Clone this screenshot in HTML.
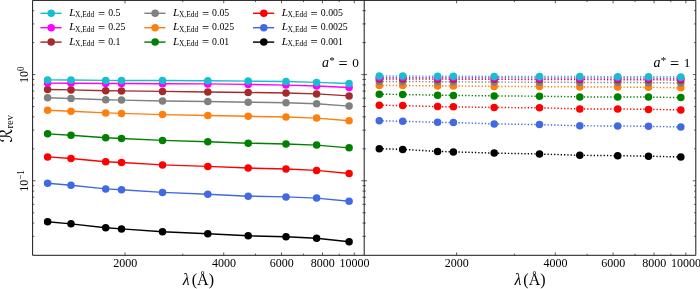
<!DOCTYPE html>
<html><head><meta charset="utf-8"><title>R_rev vs lambda</title>
<style>html,body{margin:0;padding:0;background:#fff;overflow:hidden}svg{display:block}</style></head>
<body>
<svg width="700" height="289" viewBox="0 0 700 289" style="display:block">
<rect width="700" height="289" fill="#fff"/>
<polyline points="47.60,221.80 71.00,223.85 105.70,227.80 121.50,228.90 162.50,231.80 207.80,233.70 248.20,235.80 286.00,236.80 316.60,238.20 349.10,241.70" fill="none" stroke="#000000" stroke-width="1.45" stroke-linejoin="round"/>
<circle cx="47.60" cy="221.80" r="3.75" fill="#000000"/>
<circle cx="71.00" cy="223.85" r="3.75" fill="#000000"/>
<circle cx="105.70" cy="227.80" r="3.75" fill="#000000"/>
<circle cx="121.50" cy="228.90" r="3.75" fill="#000000"/>
<circle cx="162.50" cy="231.80" r="3.75" fill="#000000"/>
<circle cx="207.80" cy="233.70" r="3.75" fill="#000000"/>
<circle cx="248.20" cy="235.80" r="3.75" fill="#000000"/>
<circle cx="286.00" cy="236.80" r="3.75" fill="#000000"/>
<circle cx="316.60" cy="238.20" r="3.75" fill="#000000"/>
<circle cx="349.10" cy="241.70" r="3.75" fill="#000000"/>
<polyline points="47.60,183.20 71.00,185.30 105.70,188.90 121.50,189.80 162.50,192.40 207.80,194.30 248.20,196.20 286.00,196.90 316.60,198.10 349.10,201.20" fill="none" stroke="#4169e1" stroke-width="1.45" stroke-linejoin="round"/>
<circle cx="47.60" cy="183.20" r="3.75" fill="#4169e1"/>
<circle cx="71.00" cy="185.30" r="3.75" fill="#4169e1"/>
<circle cx="105.70" cy="188.90" r="3.75" fill="#4169e1"/>
<circle cx="121.50" cy="189.80" r="3.75" fill="#4169e1"/>
<circle cx="162.50" cy="192.40" r="3.75" fill="#4169e1"/>
<circle cx="207.80" cy="194.30" r="3.75" fill="#4169e1"/>
<circle cx="248.20" cy="196.20" r="3.75" fill="#4169e1"/>
<circle cx="286.00" cy="196.90" r="3.75" fill="#4169e1"/>
<circle cx="316.60" cy="198.10" r="3.75" fill="#4169e1"/>
<circle cx="349.10" cy="201.20" r="3.75" fill="#4169e1"/>
<polyline points="47.60,156.90 71.00,158.55 105.70,161.70 121.50,162.50 162.50,164.90 207.80,166.40 248.20,168.00 286.00,169.00 316.60,170.40 349.10,173.50" fill="none" stroke="#ff0000" stroke-width="1.45" stroke-linejoin="round"/>
<circle cx="47.60" cy="156.90" r="3.75" fill="#ff0000"/>
<circle cx="71.00" cy="158.55" r="3.75" fill="#ff0000"/>
<circle cx="105.70" cy="161.70" r="3.75" fill="#ff0000"/>
<circle cx="121.50" cy="162.50" r="3.75" fill="#ff0000"/>
<circle cx="162.50" cy="164.90" r="3.75" fill="#ff0000"/>
<circle cx="207.80" cy="166.40" r="3.75" fill="#ff0000"/>
<circle cx="248.20" cy="168.00" r="3.75" fill="#ff0000"/>
<circle cx="286.00" cy="169.00" r="3.75" fill="#ff0000"/>
<circle cx="316.60" cy="170.40" r="3.75" fill="#ff0000"/>
<circle cx="349.10" cy="173.50" r="3.75" fill="#ff0000"/>
<polyline points="47.60,133.85 71.00,135.20 105.70,137.80 121.50,138.50 162.50,140.40 207.80,141.80 248.20,143.20 286.00,144.05 316.60,145.10 349.10,147.85" fill="none" stroke="#008000" stroke-width="1.45" stroke-linejoin="round"/>
<circle cx="47.60" cy="133.85" r="3.75" fill="#008000"/>
<circle cx="71.00" cy="135.20" r="3.75" fill="#008000"/>
<circle cx="105.70" cy="137.80" r="3.75" fill="#008000"/>
<circle cx="121.50" cy="138.50" r="3.75" fill="#008000"/>
<circle cx="162.50" cy="140.40" r="3.75" fill="#008000"/>
<circle cx="207.80" cy="141.80" r="3.75" fill="#008000"/>
<circle cx="248.20" cy="143.20" r="3.75" fill="#008000"/>
<circle cx="286.00" cy="144.05" r="3.75" fill="#008000"/>
<circle cx="316.60" cy="145.10" r="3.75" fill="#008000"/>
<circle cx="349.10" cy="147.85" r="3.75" fill="#008000"/>
<polyline points="47.60,110.30 71.00,111.20 105.70,112.90 121.50,113.40 162.50,114.60 207.80,115.50 248.20,116.30 286.00,117.00 316.60,118.10 349.10,120.70" fill="none" stroke="#ff7f0e" stroke-width="1.45" stroke-linejoin="round"/>
<circle cx="47.60" cy="110.30" r="3.75" fill="#ff7f0e"/>
<circle cx="71.00" cy="111.20" r="3.75" fill="#ff7f0e"/>
<circle cx="105.70" cy="112.90" r="3.75" fill="#ff7f0e"/>
<circle cx="121.50" cy="113.40" r="3.75" fill="#ff7f0e"/>
<circle cx="162.50" cy="114.60" r="3.75" fill="#ff7f0e"/>
<circle cx="207.80" cy="115.50" r="3.75" fill="#ff7f0e"/>
<circle cx="248.20" cy="116.30" r="3.75" fill="#ff7f0e"/>
<circle cx="286.00" cy="117.00" r="3.75" fill="#ff7f0e"/>
<circle cx="316.60" cy="118.10" r="3.75" fill="#ff7f0e"/>
<circle cx="349.10" cy="120.70" r="3.75" fill="#ff7f0e"/>
<polyline points="47.60,97.80 71.00,98.50 105.70,99.70 121.50,100.10 162.50,101.00 207.80,101.50 248.20,102.20 286.00,102.70 316.60,103.70 349.10,106.10" fill="none" stroke="#808080" stroke-width="1.45" stroke-linejoin="round"/>
<circle cx="47.60" cy="97.80" r="3.75" fill="#808080"/>
<circle cx="71.00" cy="98.50" r="3.75" fill="#808080"/>
<circle cx="105.70" cy="99.70" r="3.75" fill="#808080"/>
<circle cx="121.50" cy="100.10" r="3.75" fill="#808080"/>
<circle cx="162.50" cy="101.00" r="3.75" fill="#808080"/>
<circle cx="207.80" cy="101.50" r="3.75" fill="#808080"/>
<circle cx="248.20" cy="102.20" r="3.75" fill="#808080"/>
<circle cx="286.00" cy="102.70" r="3.75" fill="#808080"/>
<circle cx="316.60" cy="103.70" r="3.75" fill="#808080"/>
<circle cx="349.10" cy="106.10" r="3.75" fill="#808080"/>
<polyline points="47.60,89.50 71.00,89.90 105.70,90.75 121.50,90.90 162.50,91.40 207.80,92.00 248.20,92.50 286.00,93.00 316.60,93.90 349.10,95.90" fill="none" stroke="#a52a2a" stroke-width="1.45" stroke-linejoin="round"/>
<circle cx="47.60" cy="89.50" r="3.75" fill="#a52a2a"/>
<circle cx="71.00" cy="89.90" r="3.75" fill="#a52a2a"/>
<circle cx="105.70" cy="90.75" r="3.75" fill="#a52a2a"/>
<circle cx="121.50" cy="90.90" r="3.75" fill="#a52a2a"/>
<circle cx="162.50" cy="91.40" r="3.75" fill="#a52a2a"/>
<circle cx="207.80" cy="92.00" r="3.75" fill="#a52a2a"/>
<circle cx="248.20" cy="92.50" r="3.75" fill="#a52a2a"/>
<circle cx="286.00" cy="93.00" r="3.75" fill="#a52a2a"/>
<circle cx="316.60" cy="93.90" r="3.75" fill="#a52a2a"/>
<circle cx="349.10" cy="95.90" r="3.75" fill="#a52a2a"/>
<polyline points="47.60,83.10 71.00,83.30 105.70,83.50 121.50,83.50 162.50,83.70 207.80,83.90 248.20,84.40 286.00,85.10 316.60,86.00 349.10,87.50" fill="none" stroke="#ff00ff" stroke-width="1.45" stroke-linejoin="round"/>
<circle cx="47.60" cy="83.10" r="3.75" fill="#ff00ff"/>
<circle cx="71.00" cy="83.30" r="3.75" fill="#ff00ff"/>
<circle cx="105.70" cy="83.50" r="3.75" fill="#ff00ff"/>
<circle cx="121.50" cy="83.50" r="3.75" fill="#ff00ff"/>
<circle cx="162.50" cy="83.70" r="3.75" fill="#ff00ff"/>
<circle cx="207.80" cy="83.90" r="3.75" fill="#ff00ff"/>
<circle cx="248.20" cy="84.40" r="3.75" fill="#ff00ff"/>
<circle cx="286.00" cy="85.10" r="3.75" fill="#ff00ff"/>
<circle cx="316.60" cy="86.00" r="3.75" fill="#ff00ff"/>
<circle cx="349.10" cy="87.50" r="3.75" fill="#ff00ff"/>
<polyline points="47.60,79.90 71.00,80.00 105.70,80.40 121.50,80.40 162.50,80.50 207.80,80.70 248.20,81.10 286.00,81.50 316.60,82.40 349.10,83.50" fill="none" stroke="#17becf" stroke-width="1.45" stroke-linejoin="round"/>
<circle cx="47.60" cy="79.90" r="3.75" fill="#17becf"/>
<circle cx="71.00" cy="80.00" r="3.75" fill="#17becf"/>
<circle cx="105.70" cy="80.40" r="3.75" fill="#17becf"/>
<circle cx="121.50" cy="80.40" r="3.75" fill="#17becf"/>
<circle cx="162.50" cy="80.50" r="3.75" fill="#17becf"/>
<circle cx="207.80" cy="80.70" r="3.75" fill="#17becf"/>
<circle cx="248.20" cy="81.10" r="3.75" fill="#17becf"/>
<circle cx="286.00" cy="81.50" r="3.75" fill="#17becf"/>
<circle cx="316.60" cy="82.40" r="3.75" fill="#17becf"/>
<circle cx="349.10" cy="83.50" r="3.75" fill="#17becf"/>
<polyline points="379.30,148.70 402.70,149.40 437.60,151.40 453.40,151.90 494.20,153.10 539.50,154.00 579.80,155.30 617.70,155.70 648.50,156.20 680.80,157.00" fill="none" stroke="#000000" stroke-width="1.45" stroke-dasharray="1.3 2.0" stroke-linejoin="round"/>
<circle cx="379.30" cy="148.70" r="3.75" fill="#000000"/>
<circle cx="402.70" cy="149.40" r="3.75" fill="#000000"/>
<circle cx="437.60" cy="151.40" r="3.75" fill="#000000"/>
<circle cx="453.40" cy="151.90" r="3.75" fill="#000000"/>
<circle cx="494.20" cy="153.10" r="3.75" fill="#000000"/>
<circle cx="539.50" cy="154.00" r="3.75" fill="#000000"/>
<circle cx="579.80" cy="155.30" r="3.75" fill="#000000"/>
<circle cx="617.70" cy="155.70" r="3.75" fill="#000000"/>
<circle cx="648.50" cy="156.20" r="3.75" fill="#000000"/>
<circle cx="680.80" cy="157.00" r="3.75" fill="#000000"/>
<polyline points="379.30,120.80 402.70,121.30 437.60,122.35 453.40,122.50 494.20,123.90 539.50,124.60 579.80,125.80 617.70,126.00 648.50,126.30 680.80,127.00" fill="none" stroke="#4169e1" stroke-width="1.45" stroke-dasharray="1.3 2.0" stroke-linejoin="round"/>
<circle cx="379.30" cy="120.80" r="3.75" fill="#4169e1"/>
<circle cx="402.70" cy="121.30" r="3.75" fill="#4169e1"/>
<circle cx="437.60" cy="122.35" r="3.75" fill="#4169e1"/>
<circle cx="453.40" cy="122.50" r="3.75" fill="#4169e1"/>
<circle cx="494.20" cy="123.90" r="3.75" fill="#4169e1"/>
<circle cx="539.50" cy="124.60" r="3.75" fill="#4169e1"/>
<circle cx="579.80" cy="125.80" r="3.75" fill="#4169e1"/>
<circle cx="617.70" cy="126.00" r="3.75" fill="#4169e1"/>
<circle cx="648.50" cy="126.30" r="3.75" fill="#4169e1"/>
<circle cx="680.80" cy="127.00" r="3.75" fill="#4169e1"/>
<polyline points="379.30,105.20 402.70,105.60 437.60,106.60 453.40,106.80 494.20,107.50 539.50,107.80 579.80,108.90 617.70,109.00 648.50,109.40 680.80,109.90" fill="none" stroke="#ff0000" stroke-width="1.45" stroke-dasharray="1.3 2.0" stroke-linejoin="round"/>
<circle cx="379.30" cy="105.20" r="3.75" fill="#ff0000"/>
<circle cx="402.70" cy="105.60" r="3.75" fill="#ff0000"/>
<circle cx="437.60" cy="106.60" r="3.75" fill="#ff0000"/>
<circle cx="453.40" cy="106.80" r="3.75" fill="#ff0000"/>
<circle cx="494.20" cy="107.50" r="3.75" fill="#ff0000"/>
<circle cx="539.50" cy="107.80" r="3.75" fill="#ff0000"/>
<circle cx="579.80" cy="108.90" r="3.75" fill="#ff0000"/>
<circle cx="617.70" cy="109.00" r="3.75" fill="#ff0000"/>
<circle cx="648.50" cy="109.40" r="3.75" fill="#ff0000"/>
<circle cx="680.80" cy="109.90" r="3.75" fill="#ff0000"/>
<polyline points="379.30,94.20 402.70,94.50 437.60,95.20 453.40,95.40 494.20,95.90 539.50,96.20 579.80,96.90 617.70,96.90 648.50,97.10 680.80,97.60" fill="none" stroke="#008000" stroke-width="1.45" stroke-dasharray="1.3 2.0" stroke-linejoin="round"/>
<circle cx="379.30" cy="94.20" r="3.75" fill="#008000"/>
<circle cx="402.70" cy="94.50" r="3.75" fill="#008000"/>
<circle cx="437.60" cy="95.20" r="3.75" fill="#008000"/>
<circle cx="453.40" cy="95.40" r="3.75" fill="#008000"/>
<circle cx="494.20" cy="95.90" r="3.75" fill="#008000"/>
<circle cx="539.50" cy="96.20" r="3.75" fill="#008000"/>
<circle cx="579.80" cy="96.90" r="3.75" fill="#008000"/>
<circle cx="617.70" cy="96.90" r="3.75" fill="#008000"/>
<circle cx="648.50" cy="97.10" r="3.75" fill="#008000"/>
<circle cx="680.80" cy="97.60" r="3.75" fill="#008000"/>
<polyline points="379.30,85.40 402.70,85.50 437.60,85.90 453.40,86.00 494.20,86.40 539.50,86.60 579.80,86.90 617.70,87.10 648.50,87.25 680.80,87.80" fill="none" stroke="#ff7f0e" stroke-width="1.45" stroke-dasharray="1.3 2.0" stroke-linejoin="round"/>
<circle cx="379.30" cy="85.40" r="3.75" fill="#ff7f0e"/>
<circle cx="402.70" cy="85.50" r="3.75" fill="#ff7f0e"/>
<circle cx="437.60" cy="85.90" r="3.75" fill="#ff7f0e"/>
<circle cx="453.40" cy="86.00" r="3.75" fill="#ff7f0e"/>
<circle cx="494.20" cy="86.40" r="3.75" fill="#ff7f0e"/>
<circle cx="539.50" cy="86.60" r="3.75" fill="#ff7f0e"/>
<circle cx="579.80" cy="86.90" r="3.75" fill="#ff7f0e"/>
<circle cx="617.70" cy="87.10" r="3.75" fill="#ff7f0e"/>
<circle cx="648.50" cy="87.25" r="3.75" fill="#ff7f0e"/>
<circle cx="680.80" cy="87.80" r="3.75" fill="#ff7f0e"/>
<polyline points="379.30,81.40 402.70,81.47 437.60,81.73 453.40,81.80 494.20,82.07 539.50,82.20 579.80,82.40 617.70,82.53 648.50,82.63 680.80,83.00" fill="none" stroke="#808080" stroke-width="1.45" stroke-dasharray="1.3 2.0" stroke-linejoin="round"/>
<circle cx="379.30" cy="81.40" r="3.75" fill="#808080"/>
<circle cx="402.70" cy="81.47" r="3.75" fill="#808080"/>
<circle cx="437.60" cy="81.73" r="3.75" fill="#808080"/>
<circle cx="453.40" cy="81.80" r="3.75" fill="#808080"/>
<circle cx="494.20" cy="82.07" r="3.75" fill="#808080"/>
<circle cx="539.50" cy="82.20" r="3.75" fill="#808080"/>
<circle cx="579.80" cy="82.40" r="3.75" fill="#808080"/>
<circle cx="617.70" cy="82.53" r="3.75" fill="#808080"/>
<circle cx="648.50" cy="82.63" r="3.75" fill="#808080"/>
<circle cx="680.80" cy="83.00" r="3.75" fill="#808080"/>
<polyline points="379.30,78.90 402.70,78.95 437.60,79.13 453.40,79.17 494.20,79.36 539.50,79.45 579.80,79.59 617.70,79.68 648.50,79.75 680.80,80.00" fill="none" stroke="#a52a2a" stroke-width="1.45" stroke-dasharray="1.3 2.0" stroke-linejoin="round"/>
<circle cx="379.30" cy="78.90" r="3.75" fill="#a52a2a"/>
<circle cx="402.70" cy="78.95" r="3.75" fill="#a52a2a"/>
<circle cx="437.60" cy="79.13" r="3.75" fill="#a52a2a"/>
<circle cx="453.40" cy="79.17" r="3.75" fill="#a52a2a"/>
<circle cx="494.20" cy="79.36" r="3.75" fill="#a52a2a"/>
<circle cx="539.50" cy="79.45" r="3.75" fill="#a52a2a"/>
<circle cx="579.80" cy="79.59" r="3.75" fill="#a52a2a"/>
<circle cx="617.70" cy="79.68" r="3.75" fill="#a52a2a"/>
<circle cx="648.50" cy="79.75" r="3.75" fill="#a52a2a"/>
<circle cx="680.80" cy="80.00" r="3.75" fill="#a52a2a"/>
<polyline points="379.30,77.50 402.70,77.53 437.60,77.67 453.40,77.70 494.20,77.83 539.50,77.90 579.80,78.00 617.70,78.07 648.50,78.12 680.80,78.30" fill="none" stroke="#ff00ff" stroke-width="1.45" stroke-dasharray="1.3 2.0" stroke-linejoin="round"/>
<circle cx="379.30" cy="77.50" r="3.75" fill="#ff00ff"/>
<circle cx="402.70" cy="77.53" r="3.75" fill="#ff00ff"/>
<circle cx="437.60" cy="77.67" r="3.75" fill="#ff00ff"/>
<circle cx="453.40" cy="77.70" r="3.75" fill="#ff00ff"/>
<circle cx="494.20" cy="77.83" r="3.75" fill="#ff00ff"/>
<circle cx="539.50" cy="77.90" r="3.75" fill="#ff00ff"/>
<circle cx="579.80" cy="78.00" r="3.75" fill="#ff00ff"/>
<circle cx="617.70" cy="78.07" r="3.75" fill="#ff00ff"/>
<circle cx="648.50" cy="78.12" r="3.75" fill="#ff00ff"/>
<circle cx="680.80" cy="78.30" r="3.75" fill="#ff00ff"/>
<polyline points="379.30,76.00 402.70,76.04 437.60,76.19 453.40,76.22 494.20,76.38 539.50,76.45 579.80,76.56 617.70,76.64 648.50,76.69 680.80,76.90" fill="none" stroke="#17becf" stroke-width="1.45" stroke-dasharray="1.3 2.0" stroke-linejoin="round"/>
<circle cx="379.30" cy="76.00" r="3.75" fill="#17becf"/>
<circle cx="402.70" cy="76.04" r="3.75" fill="#17becf"/>
<circle cx="437.60" cy="76.19" r="3.75" fill="#17becf"/>
<circle cx="453.40" cy="76.22" r="3.75" fill="#17becf"/>
<circle cx="494.20" cy="76.38" r="3.75" fill="#17becf"/>
<circle cx="539.50" cy="76.45" r="3.75" fill="#17becf"/>
<circle cx="579.80" cy="76.56" r="3.75" fill="#17becf"/>
<circle cx="617.70" cy="76.64" r="3.75" fill="#17becf"/>
<circle cx="648.50" cy="76.69" r="3.75" fill="#17becf"/>
<circle cx="680.80" cy="76.90" r="3.75" fill="#17becf"/>
<path d="M125.00 255.3v-2.9M125.00 0.4v2.9M223.74 255.3v-2.9M223.74 0.4v2.9M281.50 255.3v-2.9M281.50 0.4v2.9M322.48 255.3v-2.9M322.48 0.4v2.9M354.26 255.3v-2.9M354.26 0.4v2.9M182.76 255.3v-1.7M182.76 0.4v1.7M255.52 255.3v-1.7M255.52 0.4v1.7M303.45 255.3v-1.7M303.45 0.4v1.7M339.25 255.3v-1.7M339.25 0.4v1.7M456.60 255.3v-2.9M456.60 0.4v2.9M555.34 255.3v-2.9M555.34 0.4v2.9M613.10 255.3v-2.9M613.10 0.4v2.9M654.08 255.3v-2.9M654.08 0.4v2.9M685.86 255.3v-2.9M685.86 0.4v2.9M514.36 255.3v-1.7M514.36 0.4v1.7M587.12 255.3v-1.7M587.12 0.4v1.7M635.05 255.3v-1.7M635.05 0.4v1.7M670.85 255.3v-1.7M670.85 0.4v1.7M32.6 74.60h2.9M364.2 74.60h-2.9M364.2 74.60h2.9M695.8 74.60h-2.9M32.6 180.80h2.9M364.2 180.80h-2.9M364.2 180.80h2.9M695.8 180.80h-2.9M32.6 10.66h1.7M364.2 10.66h-1.7M364.2 10.66h1.7M695.8 10.66h-1.7M32.6 23.93h1.7M364.2 23.93h-1.7M364.2 23.93h1.7M695.8 23.93h-1.7M32.6 42.63h1.7M364.2 42.63h-1.7M364.2 42.63h1.7M695.8 42.63h-1.7M32.6 79.46h1.7M364.2 79.46h-1.7M364.2 79.46h1.7M695.8 79.46h-1.7M32.6 84.89h1.7M364.2 84.89h-1.7M364.2 84.89h1.7M695.8 84.89h-1.7M32.6 91.05h1.7M364.2 91.05h-1.7M364.2 91.05h1.7M695.8 91.05h-1.7M32.6 98.16h1.7M364.2 98.16h-1.7M364.2 98.16h1.7M695.8 98.16h-1.7M32.6 106.57h1.7M364.2 106.57h-1.7M364.2 106.57h1.7M695.8 106.57h-1.7M32.6 116.86h1.7M364.2 116.86h-1.7M364.2 116.86h1.7M695.8 116.86h-1.7M32.6 130.13h1.7M364.2 130.13h-1.7M364.2 130.13h1.7M695.8 130.13h-1.7M32.6 148.83h1.7M364.2 148.83h-1.7M364.2 148.83h1.7M695.8 148.83h-1.7M32.6 185.66h1.7M364.2 185.66h-1.7M364.2 185.66h1.7M695.8 185.66h-1.7M32.6 191.09h1.7M364.2 191.09h-1.7M364.2 191.09h1.7M695.8 191.09h-1.7M32.6 197.25h1.7M364.2 197.25h-1.7M364.2 197.25h1.7M695.8 197.25h-1.7M32.6 204.36h1.7M364.2 204.36h-1.7M364.2 204.36h1.7M695.8 204.36h-1.7M32.6 212.77h1.7M364.2 212.77h-1.7M364.2 212.77h1.7M695.8 212.77h-1.7M32.6 223.06h1.7M364.2 223.06h-1.7M364.2 223.06h1.7M695.8 223.06h-1.7M32.6 236.33h1.7M364.2 236.33h-1.7M364.2 236.33h1.7M695.8 236.33h-1.7" stroke="#1a1a1a" stroke-width="0.7" fill="none"/>
<path d="M32.6 0.4H695.8V255.3H32.6Z M364.2 0.4V255.3" stroke="#1a1a1a" stroke-width="1.0" fill="none"/>
<g font-family="'Liberation Serif','DejaVu Serif',serif" font-size="12.8" fill="#000" text-anchor="middle">
<text transform="translate(125.20 267.4) scale(0.94 1)">2000</text>
<text transform="translate(223.94 267.4) scale(0.94 1)">4000</text>
<text transform="translate(281.70 267.4) scale(0.94 1)">6000</text>
<text transform="translate(322.68 267.4) scale(0.94 1)">8000</text>
<text transform="translate(354.46 267.4) scale(0.94 1)">10000</text>
<text transform="translate(456.80 267.4) scale(0.94 1)">2000</text>
<text transform="translate(555.54 267.4) scale(0.94 1)">4000</text>
<text transform="translate(613.30 267.4) scale(0.94 1)">6000</text>
<text transform="translate(654.28 267.4) scale(0.94 1)">8000</text>
<text transform="translate(686.06 267.4) scale(0.94 1)">10000</text>
</g>
<text transform="translate(27.6 74.80) rotate(-90) scale(0.94 1)" font-family="'Liberation Serif','DejaVu Serif',serif" font-size="12.8" text-anchor="middle" fill="#000">10<tspan font-size="9.4" dy="-4.0">0</tspan></text>
<text transform="translate(27.6 181.00) rotate(-90) scale(0.94 1)" font-family="'Liberation Serif','DejaVu Serif',serif" font-size="12.8" text-anchor="middle" fill="#000">10<tspan font-size="9.4" dy="-4.0">−1</tspan></text>
<text x="198.40" y="285.2" font-family="'Liberation Serif','DejaVu Serif',serif" font-size="16" text-anchor="middle" fill="#000"><tspan font-style="italic">λ</tspan><tspan dx="2">(Å)</tspan></text>
<text x="530.00" y="285.2" font-family="'Liberation Serif','DejaVu Serif',serif" font-size="16" text-anchor="middle" fill="#000"><tspan font-style="italic">λ</tspan><tspan dx="2">(Å)</tspan></text>
<text transform="translate(11.5 128.8) rotate(-90)" font-size="17.5" text-anchor="middle" fill="#000"><tspan font-family="'DejaVu Sans','Liberation Serif',serif">ℛ</tspan><tspan font-family="'Liberation Serif',serif" font-size="10.6" dy="1.2">rev</tspan></text>
<text y="66.5" font-family="'Liberation Serif','DejaVu Serif',serif" font-size="14" fill="#000"><tspan x="322.0" font-style="italic">a</tspan><tspan x="329.2" font-size="11" dy="-2.2">*</tspan><tspan x="338.5" dy="4.6" font-size="16.2">=</tspan><tspan x="352.2" dy="-2.4" font-size="13.3">0</tspan></text>
<text y="66.5" font-family="'Liberation Serif','DejaVu Serif',serif" font-size="14" fill="#000"><tspan x="653.6" font-style="italic">a</tspan><tspan x="660.8" font-size="11" dy="-2.2">*</tspan><tspan x="670.1" dy="4.6" font-size="16.2">=</tspan><tspan x="683.8" dy="-2.4" font-size="13.3">1</tspan></text>
<path d="M40.4 13.3h21.2" stroke="#17becf" stroke-width="1.45"/>
<circle cx="51.2" cy="13.3" r="3.75" fill="#17becf"/>
<text y="15.8" font-family="'Liberation Serif','DejaVu Serif',serif" font-size="9.8" fill="#000"><tspan x="69.2" font-style="italic" font-size="11.2">L</tspan><tspan x="75.0" font-size="7.5" dy="1.5">X,Edd</tspan><tspan x="98.0" dy="0.2" font-size="12.6">=</tspan><tspan x="108.2" dy="-1.7">0.5</tspan></text>
<path d="M40.4 27.7h21.2" stroke="#ff00ff" stroke-width="1.45"/>
<circle cx="51.2" cy="27.7" r="3.75" fill="#ff00ff"/>
<text y="30.2" font-family="'Liberation Serif','DejaVu Serif',serif" font-size="9.8" fill="#000"><tspan x="69.2" font-style="italic" font-size="11.2">L</tspan><tspan x="75.0" font-size="7.5" dy="1.5">X,Edd</tspan><tspan x="98.0" dy="0.2" font-size="12.6">=</tspan><tspan x="108.2" dy="-1.7">0.25</tspan></text>
<path d="M40.4 42.1h21.2" stroke="#a52a2a" stroke-width="1.45"/>
<circle cx="51.2" cy="42.1" r="3.75" fill="#a52a2a"/>
<text y="44.6" font-family="'Liberation Serif','DejaVu Serif',serif" font-size="9.8" fill="#000"><tspan x="69.2" font-style="italic" font-size="11.2">L</tspan><tspan x="75.0" font-size="7.5" dy="1.5">X,Edd</tspan><tspan x="98.0" dy="0.2" font-size="12.6">=</tspan><tspan x="108.2" dy="-1.7">0.1</tspan></text>
<path d="M144.3 13.3h21.2" stroke="#808080" stroke-width="1.45"/>
<circle cx="155.10000000000002" cy="13.3" r="3.75" fill="#808080"/>
<text y="15.8" font-family="'Liberation Serif','DejaVu Serif',serif" font-size="9.8" fill="#000"><tspan x="173.10000000000002" font-style="italic" font-size="11.2">L</tspan><tspan x="178.9" font-size="7.5" dy="1.5">X,Edd</tspan><tspan x="201.9" dy="0.2" font-size="12.6">=</tspan><tspan x="212.1" dy="-1.7">0.05</tspan></text>
<path d="M144.3 27.7h21.2" stroke="#ff7f0e" stroke-width="1.45"/>
<circle cx="155.10000000000002" cy="27.7" r="3.75" fill="#ff7f0e"/>
<text y="30.2" font-family="'Liberation Serif','DejaVu Serif',serif" font-size="9.8" fill="#000"><tspan x="173.10000000000002" font-style="italic" font-size="11.2">L</tspan><tspan x="178.9" font-size="7.5" dy="1.5">X,Edd</tspan><tspan x="201.9" dy="0.2" font-size="12.6">=</tspan><tspan x="212.1" dy="-1.7">0.025</tspan></text>
<path d="M144.3 42.1h21.2" stroke="#008000" stroke-width="1.45"/>
<circle cx="155.10000000000002" cy="42.1" r="3.75" fill="#008000"/>
<text y="44.6" font-family="'Liberation Serif','DejaVu Serif',serif" font-size="9.8" fill="#000"><tspan x="173.10000000000002" font-style="italic" font-size="11.2">L</tspan><tspan x="178.9" font-size="7.5" dy="1.5">X,Edd</tspan><tspan x="201.9" dy="0.2" font-size="12.6">=</tspan><tspan x="212.1" dy="-1.7">0.01</tspan></text>
<path d="M253.0 13.3h21.2" stroke="#ff0000" stroke-width="1.45"/>
<circle cx="263.8" cy="13.3" r="3.75" fill="#ff0000"/>
<text y="15.8" font-family="'Liberation Serif','DejaVu Serif',serif" font-size="9.8" fill="#000"><tspan x="281.8" font-style="italic" font-size="11.2">L</tspan><tspan x="287.6" font-size="7.5" dy="1.5">X,Edd</tspan><tspan x="310.6" dy="0.2" font-size="12.6">=</tspan><tspan x="320.8" dy="-1.7">0.005</tspan></text>
<path d="M253.0 27.7h21.2" stroke="#4169e1" stroke-width="1.45"/>
<circle cx="263.8" cy="27.7" r="3.75" fill="#4169e1"/>
<text y="30.2" font-family="'Liberation Serif','DejaVu Serif',serif" font-size="9.8" fill="#000"><tspan x="281.8" font-style="italic" font-size="11.2">L</tspan><tspan x="287.6" font-size="7.5" dy="1.5">X,Edd</tspan><tspan x="310.6" dy="0.2" font-size="12.6">=</tspan><tspan x="320.8" dy="-1.7">0.0025</tspan></text>
<path d="M253.0 42.1h21.2" stroke="#000000" stroke-width="1.45"/>
<circle cx="263.8" cy="42.1" r="3.75" fill="#000000"/>
<text y="44.6" font-family="'Liberation Serif','DejaVu Serif',serif" font-size="9.8" fill="#000"><tspan x="281.8" font-style="italic" font-size="11.2">L</tspan><tspan x="287.6" font-size="7.5" dy="1.5">X,Edd</tspan><tspan x="310.6" dy="0.2" font-size="12.6">=</tspan><tspan x="320.8" dy="-1.7">0.001</tspan></text>
</svg>
</body></html>
